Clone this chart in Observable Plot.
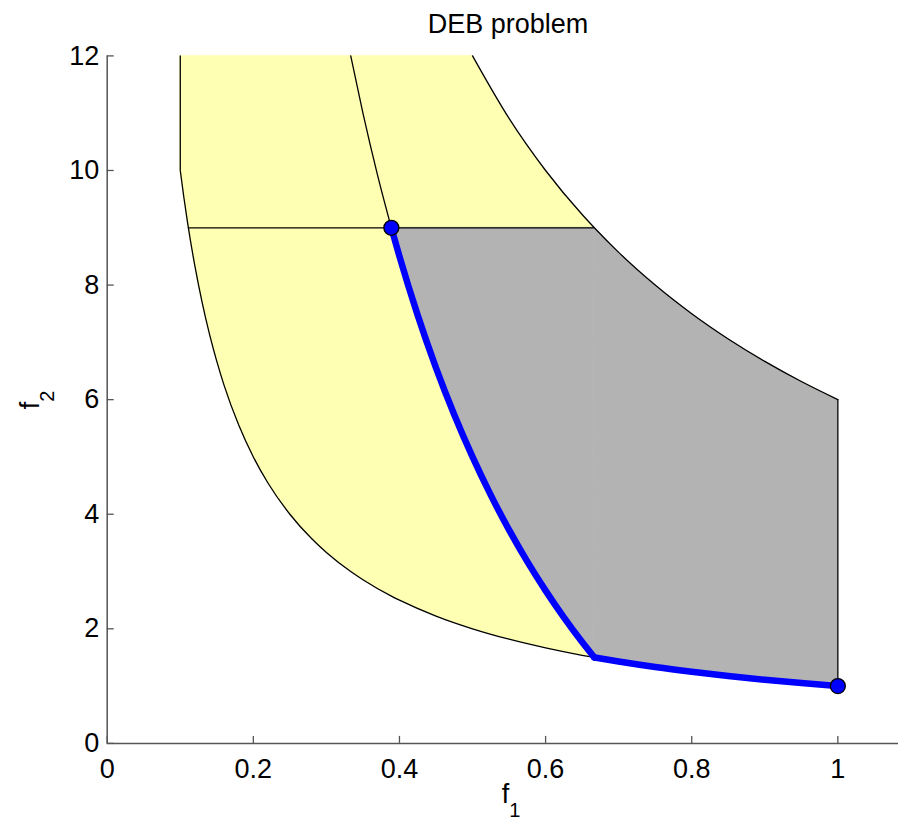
<!DOCTYPE html>
<html><head><meta charset="utf-8">
<script src="https://cdn.jsdelivr.net/npm/d3@7"></script>
<script src="https://cdn.jsdelivr.net/npm/@observablehq/plot@0.6"></script>
<style>body{margin:0;background:#fff} svg{display:block}</style>
</head><body><div id="chart"></div>
<script>
const titleText = "DEB problem";
const xTicks = [0, 0.2, 0.4, 0.6, 0.8, 1];
const yTicks = [0, 2, 4, 6, 8, 10, 12];

// unconstrained objective region (yellow)
const boundF1   = [0.1, 0.105, 0.11, 0.12, 0.13, 0.14, 0.15, 0.16, 0.18, 0.2, 0.22, 0.25, 0.28, 0.3, 0.3333, 0.35, 0.3889, 0.4, 0.45, 0.5, 0.55, 0.6, 0.65, 0.6667, 0.7, 0.75, 0.8, 0.85, 0.9, 0.95, 1.0];
const boundLow  = [10, 9.524, 9.091, 8.333, 7.692, 7.143, 6.667, 6.25, 5.556, 5.0, 4.545, 4.0, 3.571, 3.333, 3.0, 2.857, 2.571, 2.5, 2.222, 2.0, 1.818, 1.667, 1.538, 1.5, 1.429, 1.333, 1.25, 1.176, 1.111, 1.053, 1.0];
const boundHigh = [12, 12, 12, 12, 12, 12, 12, 12, 12, 12, 12, 12, 12, 12, 12, 12, 12, 12, 12, 12, 10.909, 10.0, 9.231, 9.0, 8.571, 8.0, 7.5, 7.059, 6.667, 6.316, 6.0];

// feasible region (gray)
const feasF1   = [0.3889, 0.4, 0.425, 0.45, 0.475, 0.5, 0.525, 0.55, 0.575, 0.6, 0.625, 0.65, 0.6667, 0.7, 0.75, 0.8, 0.85, 0.9, 0.95, 1.0];
const feasLow  = [9.0, 8.5, 7.471, 6.556, 5.737, 5.0, 4.333, 3.727, 3.174, 2.667, 2.2, 1.769, 1.5, 1.429, 1.333, 1.25, 1.176, 1.111, 1.053, 1.0];
const feasHigh = [9.0, 9.0, 9.0, 9.0, 9.0, 9.0, 9.0, 9.0, 9.0, 9.0, 9.0, 9.0, 9.0, 8.571, 8.0, 7.5, 7.059, 6.667, 6.316, 6.0];
const kinkF1 = 0.6667;
const capF1 = 0.5;

// constraint curve above the front
const consF1 = [0.3333, 0.35, 0.37, 0.3889];
const consF2 = [12, 11.0, 9.919, 9.0];

// horizontal constraint line
const hLineF2 = 9;
const hLineF1 = [0.1111, 0.6667];

// vertical boundary edges
const vLineF1   = [0.1, 1.0];
const vLineLow  = [10, 1];
const vLineHigh = [12, 6];

// extreme Pareto points
const endF1 = [0.3889, 1.0];
const endF2 = [9.0, 1.0];

const bound = boundF1.map((x, i) => ({x, lo: boundLow[i], hi: boundHigh[i]}));
const yellow = [
  ...bound.filter(d => d.x <= capF1).map(d => ({...d, seg: "a"})),
  ...bound.filter(d => d.x >= capF1).map(d => ({...d, seg: "b"}))
];
const upperCurve = bound.filter(d => d.x >= capF1);
const feas = feasF1.map((x, i) => ({x, lo: feasLow[i], hi: feasHigh[i]}));
const gray = [
  ...feas.filter(d => d.x <= kinkF1).map(d => ({...d, seg: "a"})),
  ...feas.filter(d => d.x >= kinkF1).map(d => ({...d, seg: "b"}))
];
const cons = consF1.map((x, i) => ({x, y: consF2[i]}));
const vEdges = vLineF1.map((x, i) => ({x, y1: vLineLow[i], y2: vLineHigh[i]}));
const ends = endF1.map((x, i) => ({x, y: endF2[i]}));

const FONT = "Liberation Sans, Arial, Helvetica, sans-serif";
const AX = "#555";

const chart = Plot.plot({
  width: 898,
  height: 821,
  marginTop: 55.4,
  marginBottom: 78.1,
  marginLeft: 106.7,
  marginRight: 0,
  style: {fontFamily: FONT, fontSize: "27px", color: "#000", background: "#fff"},
  x: {domain: [0, 1.083]},
  y: {domain: [0, 12]},
  marks: [
    Plot.areaY(yellow, {x: "x", y1: "lo", y2: "hi", z: "seg", fill: "#ffffb3", stroke: "#ffffb3", strokeWidth: 0.6, curve: "monotone-x"}),
    Plot.areaY(gray, {x: "x", y1: "lo", y2: "hi", z: "seg", fill: "#b3b3b3", stroke: "#b3b3b3", strokeWidth: 0.6, curve: "monotone-x"}),
    Plot.line(bound, {x: "x", y: "lo", stroke: "#000", strokeWidth: 1.3, curve: "monotone-x"}),
    Plot.line(upperCurve, {x: "x", y: "hi", stroke: "#000", strokeWidth: 1.3, curve: "monotone-x"}),
    Plot.line(cons, {x: "x", y: "y", stroke: "#000", strokeWidth: 1.3, curve: "monotone-x"}),
    Plot.ruleY([hLineF2], {y: d => d, x1: hLineF1[0], x2: hLineF1[1], stroke: "#000", strokeWidth: 1.3}),
    Plot.ruleX(vEdges, {x: "x", y1: "y1", y2: "y2", stroke: "#000", strokeWidth: 1.3}),
    Plot.line(gray, {x: "x", y: "lo", z: "seg", stroke: "#0000ff", strokeWidth: 6.5, curve: "monotone-x"}),
    Plot.dot(ends, {x: "x", y: "y", r: 7.5, fill: "#0000ff", stroke: "#000", strokeWidth: 1.3}),
    Plot.ruleX([0], {stroke: AX, strokeWidth: 1.5}),
    Plot.ruleY([0], {stroke: AX, strokeWidth: 1.5}),
    Plot.axisX({ticks: xTicks, tickFormat: d => String(d), tickSize: -7, tickPadding: 22, stroke: AX, strokeWidth: 1.3, label: null, fill: "#000"}),
    Plot.axisY({ticks: yTicks, tickFormat: d => String(d), tickSize: -7, tickPadding: 15, stroke: AX, strokeWidth: 1.3, label: null, fill: "#000"})
  ]
});
document.getElementById("chart").appendChild(chart);

const svg = d3.select(chart);
svg.append("text").attr("x", 508).attr("y", 33).attr("text-anchor", "middle")
  .attr("font-family", FONT).attr("font-size", 27).attr("fill", "#000").text(titleText);
const xl = svg.append("text").attr("x", 511).attr("y", 803).attr("text-anchor", "middle")
  .attr("font-family", FONT).attr("font-size", 27).attr("fill", "#000");
xl.append("tspan").text("f");
xl.append("tspan").attr("font-size", 20).attr("dy", 14).text("1");
const yl = svg.append("text").attr("transform", "translate(39,400) rotate(-90)").attr("text-anchor", "middle")
  .attr("font-family", FONT).attr("font-size", 27).attr("fill", "#000");
yl.append("tspan").text("f");
yl.append("tspan").attr("font-size", 20).attr("dy", 15).text("2");
</script>
</body></html>
